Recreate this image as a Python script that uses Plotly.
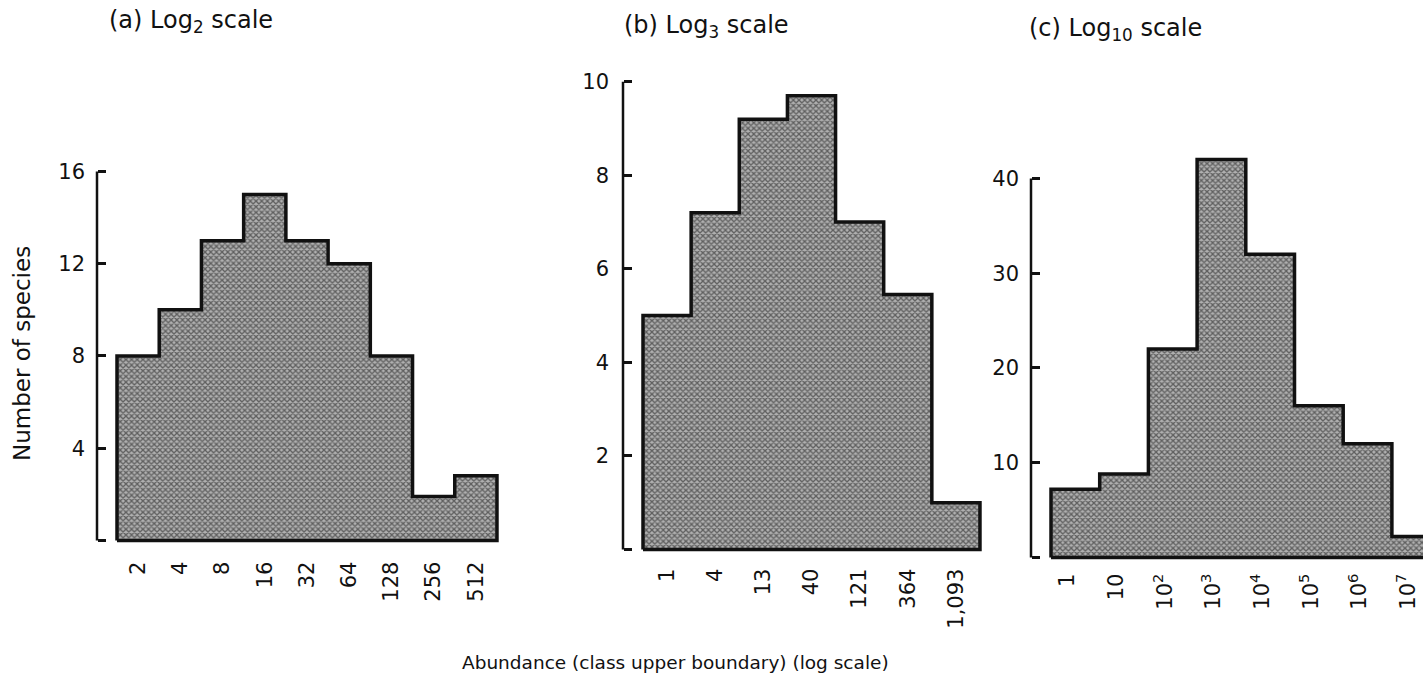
import plotly.graph_objects as go

# ---------------- data ----------------
a_labels = ["2", "4", "8", "16", "32", "64", "128", "256", "512"]
a_counts = [8, 10, 13, 15, 13, 12, 8, 1.9, 2.8]
a_yticks = [0, 4, 8, 12, 16]

b_labels = ["1", "4", "13", "40", "121", "364", "1,093"]
b_counts = [5, 7.2, 9.2, 9.7, 7.0, 5.45, 1.0]
b_yticks = [0, 2, 4, 6, 8, 10]

c_labels = ["1", "10", "10<sup>2</sup>", "10<sup>3</sup>", "10<sup>4</sup>",
            "10<sup>5</sup>", "10<sup>6</sup>", "10<sup>7</sup>"]
c_counts = [7.2, 8.8, 22, 42, 32, 16, 12, 2.2]
c_yticks = [0, 10, 20, 30, 40]

titles = ["(a) Log<sub>2</sub> scale", "(b) Log<sub>3</sub> scale", "(c) Log<sub>10</sub> scale"]
x_title = "Abundance (class upper boundary) (log scale)"
y_title = "Number of species"

# ---------------- layout geometry (pixels) ----------------
W, H = 1423, 685
FONT = "DejaVu Sans"
INK = "#111111"

panels = [
    dict(labels=a_labels, counts=a_counts, yticks=a_yticks, title=titles[0],
         axis_x=97, zero_px=540, top_val=16, top_px=170, bar_left=117, bar_w=42.22,
         dx0=92, dx1=505, dtop=160, dbot=548, xstand=8, ystand=12, xshift=0,
         tpos=(107, 20)),
    dict(labels=b_labels, counts=b_counts, yticks=b_yticks, title=titles[1],
         axis_x=623, zero_px=549, top_val=10, top_px=80, bar_left=643, bar_w=48.14,
         dx0=618, dx1=990, dtop=70, dbot=557, xstand=6, ystand=14, xshift=0,
         tpos=(622, 25)),
    dict(labels=c_labels, counts=c_counts, yticks=c_yticks, title=titles[2],
         axis_x=1031, zero_px=557, top_val=40, top_px=177, bar_left=1051, bar_w=48.7,
         dx0=1026, dx1=1423, dtop=145, dbot=565, xstand=3, ystand=12, xshift=-8,
         tpos=(1027, 28)),
]

fig = go.Figure()
layout_axes = {}
shapes = []
annotations = []

for k, p in enumerate(panels):
    sfx = "" if k == 0 else str(k + 1)
    xa, ya = "x" + sfx, "y" + sfx
    n = len(p["counts"])
    upp = (p["zero_px"] - p["top_px"]) / p["top_val"]  # px per unit
    y_lo = -(p["dbot"] - p["zero_px"]) / upp
    y_hi = p["top_val"] + (p["top_px"] - p["dtop"]) / upp
    x_lo = -0.5 - (p["bar_left"] - p["dx0"]) / p["bar_w"]
    x_hi = -0.5 + (p["dx1"] - p["bar_left"]) / p["bar_w"]

    xs = list(range(n))
    fig.add_trace(go.Bar(
        x=xs, y=p["counts"], width=1, xaxis=xa, yaxis=ya,
        marker=dict(color="#7a7a7a", line=dict(width=0),
                    pattern=dict(shape="x", size=4, solidity=0.55,
                                 fgcolor="#0d0d0d", bgcolor="#b0b0b0")),
        showlegend=False, hoverinfo="skip"))

    # step outline of histogram envelope
    ox, oy = [-0.5], [0]
    for i, v in enumerate(p["counts"]):
        ox += [i - 0.5, i + 0.5]
        oy += [v, v]
    ox += [n - 0.5, -0.5]
    oy += [0, 0]
    fig.add_trace(go.Scatter(x=ox, y=oy, mode="lines", xaxis=xa, yaxis=ya,
                             line=dict(color=INK, width=3.5), showlegend=False,
                             hoverinfo="skip"))

    layout_axes["xaxis" + sfx] = dict(
        domain=[p["dx0"] / W, p["dx1"] / W], range=[x_lo, x_hi], anchor=ya,
        tickvals=xs, ticktext=p["labels"], tickangle=-90, ticks="",
        showline=False, showgrid=False, zeroline=False,
        ticklabelstandoff=p["xstand"], ticklabelshift=p["xshift"],
        tickfont=dict(family=FONT, size=21, color=INK))
    layout_axes["yaxis" + sfx] = dict(
        domain=[1 - p["dbot"] / H, 1 - p["dtop"] / H], range=[y_lo, y_hi],
        anchor="free", position=p["axis_x"] / W,
        tickvals=p["yticks"], ticktext=[""] + [str(t) for t in p["yticks"][1:]],
        ticks="inside", ticklen=8, tickwidth=2.5, tickcolor=INK,
        showline=False, showgrid=False, zeroline=False,
        ticklabelstandoff=p["ystand"],
        tickfont=dict(family=FONT, size=21, color=INK))

    shapes.append(dict(type="line", xref="paper", yref=ya,
                       x0=p["axis_x"] / W, x1=p["axis_x"] / W,
                       y0=0, y1=p["top_val"], line=dict(color=INK, width=2.5)))

    annotations.append(dict(text=p["title"], xref="paper", yref="paper",
                            x=p["tpos"][0] / W, y=1 - p["tpos"][1] / H,
                            xanchor="left", yanchor="middle", showarrow=False,
                            font=dict(family=FONT, size=24, color=INK)))

annotations.append(dict(text=y_title, xref="paper", yref="paper",
                        x=22 / W, y=1 - 353 / H, textangle=-90,
                        xanchor="center", yanchor="middle", showarrow=False,
                        font=dict(family=FONT, size=23, color=INK)))
annotations.append(dict(text=x_title, xref="paper", yref="paper",
                        x=675 / W, y=1 - 662 / H,
                        xanchor="center", yanchor="middle", showarrow=False,
                        font=dict(family=FONT, size=18.5, color=INK)))

fig.update_layout(
    width=W, height=H, margin=dict(l=0, r=0, t=0, b=0),
    paper_bgcolor="white", plot_bgcolor="rgba(0,0,0,0)",
    shapes=shapes, annotations=annotations, bargap=0,
    **layout_axes)

fig.write_html("out.html")
